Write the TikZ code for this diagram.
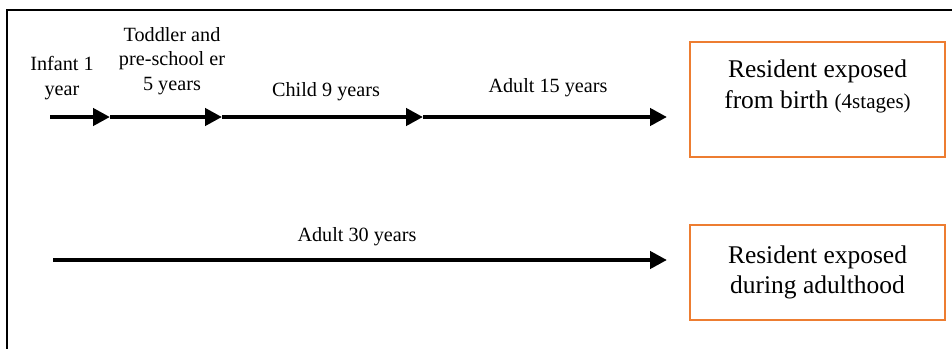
\documentclass[tikz,border=0pt]{standalone}
\usepackage{fontspec}
\setmainfont{Liberation Serif}
\usetikzlibrary{arrows.meta,positioning}

\definecolor{resorange}{RGB}{237,125,49}

\begin{document}
\begin{tikzpicture}[
  x=0.02cm, y=-0.02cm,
  font=\fontsize{11.5}{14}\selectfont,
  stage/.style={align=center, inner sep=0pt, text=black},
  res/.style={draw=resorange, line width=1.6pt, fill=white,
              minimum width=5.1cm, align=center, inner sep=2pt,
              font=\fontsize{14.5}{17.5}\selectfont},
  arr/.style={-{Triangle[length=9.6pt,width=9.6pt]}, line width=2.8pt},
  frame/.style={line width=1.6pt, black},
]

  \useasboundingbox (0,0) rectangle (952,348);

  % Outer frame (only top and left edges visible)
  \coordinate (fbl) at (7,356);
  \coordinate (ftl) at (7,10);
  \coordinate (ftr) at (960,10);
  \draw[frame] (fbl) -- (ftl) -- (ftr);

  % Row 1 -- exposure from birth

  \coordinate (a0) at (50,117);
  \coordinate (a1) at (110,117);
  \coordinate (a2) at (222,117);
  \coordinate (a3) at (423,117);
  \coordinate (a4) at (667,117);

  \node[stage] (infant)  at (62,78)  {Infant 1\\year};
  \node[stage] (toddler) at (172,61) {Toddler and\\pre-school er\\5 years};
  \node[stage] (child)   at (326,92) {Child 9 years};
  \node[stage] (adult1)  at (548,88) {Adult 15 years};

  \node[res, minimum height=2.3cm] (birth) at (817.5,99.5)
    {Resident exposed\\from birth {\fontsize{12}{14}\selectfont(4stages)}\\\mbox{}};

  \draw[arr] (a0) -- (a1);
  \draw[arr] (a1) -- (a2);
  \draw[arr] (a2) -- (a3);
  \draw[arr] (a3) -- (a4);

  % Row 2 -- exposure during adulthood

  \coordinate (b0) at (53,260);
  \coordinate (b1) at (667,260);

  \node[stage] (adult2) at (357,237) {Adult 30 years};

  \node[res, minimum height=1.9cm] (adulthood) at (817.5,272.5)
    {Resident exposed\\during adulthood};

  \draw[arr] (b0) -- (b1);

\end{tikzpicture}
\end{document}
